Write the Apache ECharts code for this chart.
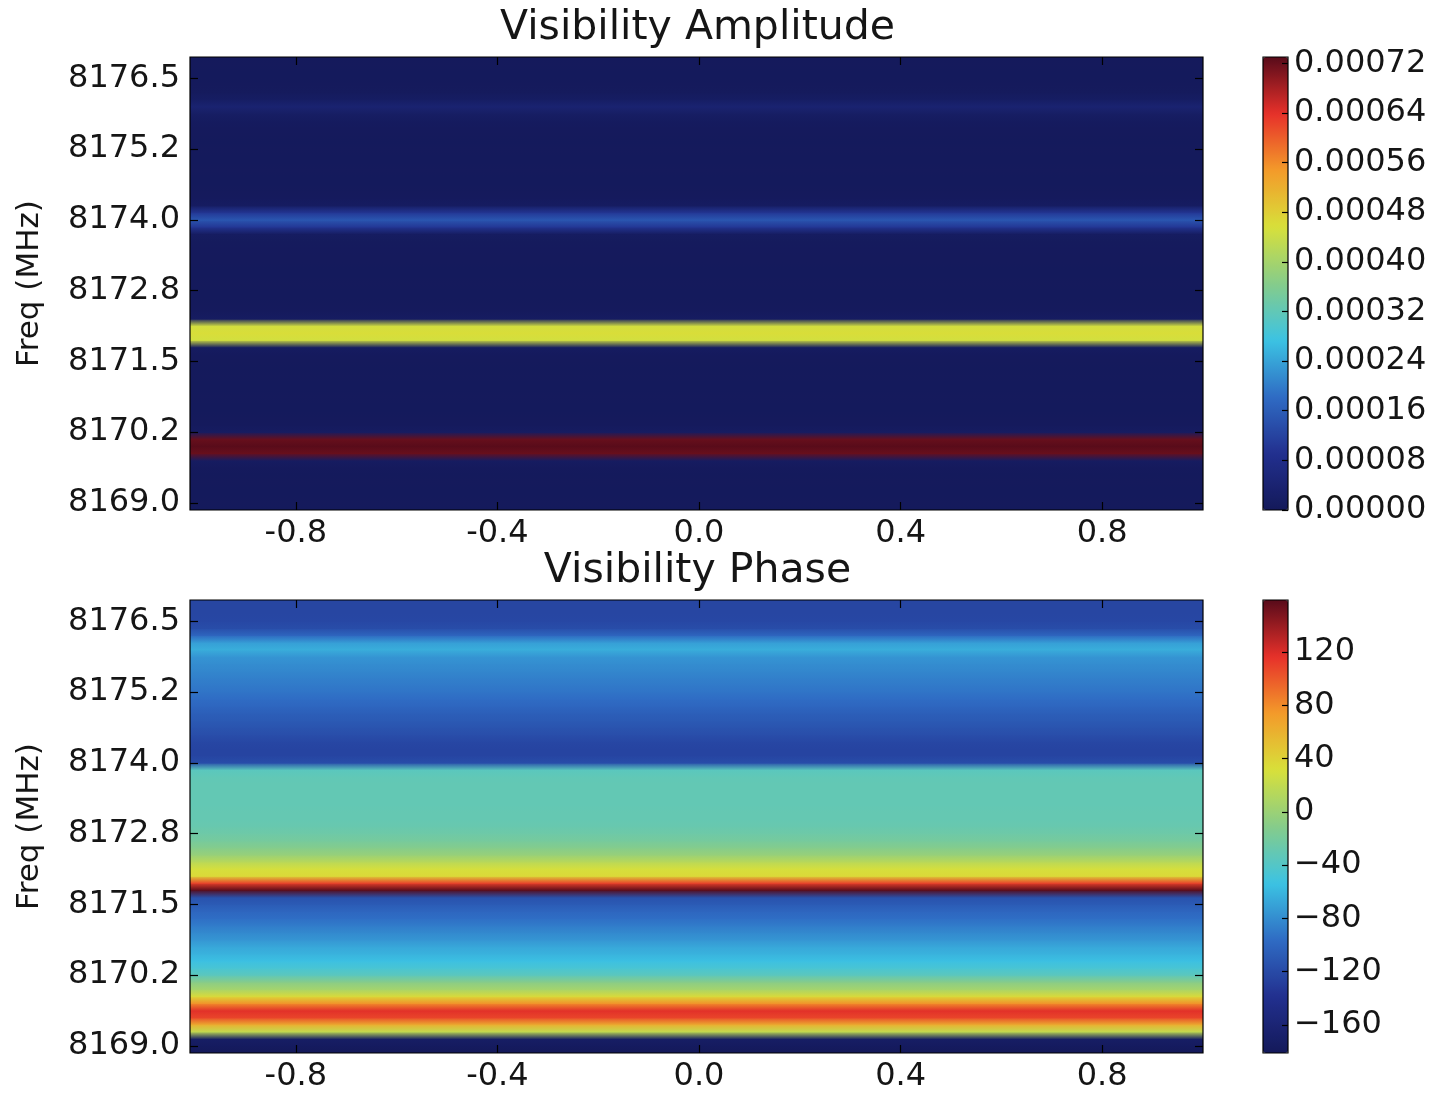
<!DOCTYPE html>
<html><head><meta charset="utf-8">
<script src="https://cdn.jsdelivr.net/npm/echarts@6/dist/echarts.min.js"></script>
<style>html,body{margin:0;padding:0;background:#fff}#c{width:1437px;height:1095px}</style>
</head><body><div id="c"></div>
<script>
// ---------------- data ----------------
const freqs = [8168.875, 8169.000, 8169.125, 8169.250, 8169.375, 8169.500, 8169.625, 8169.750, 8169.875, 8170.000,
  8170.125, 8170.250, 8170.375, 8170.500, 8170.625, 8170.750, 8170.875, 8171.000, 8171.125, 8171.250,
  8171.375, 8171.500, 8171.625, 8171.750, 8171.875, 8172.000, 8172.125, 8172.250, 8172.375, 8172.500,
  8172.625, 8172.750, 8172.875, 8173.000, 8173.125, 8173.250, 8173.375, 8173.500, 8173.625, 8173.750,
  8173.875, 8174.000, 8174.125, 8174.250, 8174.375, 8174.500, 8174.625, 8174.750, 8174.875, 8175.000,
  8175.125, 8175.250, 8175.375, 8175.500, 8175.625, 8175.750, 8175.875, 8176.000, 8176.125, 8176.250,
  8176.375, 8176.500, 8176.625, 8176.750, 8176.875];
const amplitude = [0.000003, 0.000004, 0.000003, 0.000003, 0.000004, 0.000003, 0.000005, 0.000012,
  0.00072, 0.00073, 0.00072,
  0.000012, 0.000005, 0.000004, 0.000003, 0.000003, 0.000004, 0.000003, 0.000003, 0.000004, 0.000003, 0.000004, 0.000005,
  0.000012,
  0.00045, 0.00046, 0.00045,
  0.000012,
  0.000005, 0.000004, 0.000003, 0.000003, 0.000004, 0.000003, 0.000003, 0.000004, 0.000004, 0.000005, 0.000006,
  0.000012,
  0.00010, 0.00015, 0.00010,
  0.000012,
  0.000005, 0.000004, 0.000003, 0.000003, 0.000004, 0.000003, 0.000003, 0.000004, 0.000003, 0.000004, 0.000005, 0.000008,
  0.000018, 0.000040, 0.000016,
  0.000006, 0.000004, 0.000003, 0.000003, 0.000004, 0.000003];
const phase = [-181, -177, -172, 20, 62, 108, 118, 78, 35, 5,
  -10, -35, -46, -55, -62, -67, -76, -82, -88, -95,
  -100, -108, -115, 159, 110, 36, 30, 15, -2, -12,
  -20, -25, -28, -30, -30, -31, -31, -31, -31, -32,
  -36, -118, -124, -124, -122, -117, -113, -109, -105, -100,
  -96, -92, -89, -86, -83, -80, -76, -64, -72, -100,
  -118, -122, -123, -123, -123];
const timeExtent = [-1.01, 1.0];
const freqExtent = [8168.875, 8176.875];
const xTicks = [-0.8, -0.4, 0.0, 0.4, 0.8];
const xTickLabels = ['-0.8', '-0.4', '0.0', '0.4', '0.8'];
const freqTicks = [8169.0, 8170.25, 8171.5, 8172.75, 8174.0, 8175.25, 8176.5];
const freqTickLabels = ['8169.0', '8170.2', '8171.5', '8172.8', '8174.0', '8175.2', '8176.5'];
const ampRange = [0, 0.00073];
const ampTicks = [0, 0.00008, 0.00016, 0.00024, 0.00032, 0.00040, 0.00048, 0.00056, 0.00064, 0.00072];
const ampTickLabels = ['0.00000', '0.00008', '0.00016', '0.00024', '0.00032', '0.00040', '0.00048', '0.00056', '0.00064', '0.00072'];
const phaseRange = [-181, 159];
const phaseTicks = [-160, -120, -80, -40, 0, 40, 80, 120];
const phaseTickLabels = ['\u2212160', '\u2212120', '\u221280', '\u221240', '0', '40', '80', '120'];
const titles = ['Visibility Amplitude', 'Visibility Phase'];
const yName = 'Freq (MHz)';
const jetColors = ['#14195a', '#22308f', '#2f6cc4', '#3cc3e3', '#86cc8a', '#d8e03a', '#f39a2a', '#e6302a', '#580b1a'];

// ---------------- layout ----------------
const FONT = 'DejaVu Sans';
const TXT = '#151515';
const plotLeft = 190, plotWidth = 1013, plotH = 453;
const tops = [57, 600];
const cbLeft = 1263, cbWidth = 25;

function labelFrom(ticks, labels) {
  return function (v) {
    for (let k = 0; k < ticks.length; k++) if (Math.abs(ticks[k] - v) < 1e-9) return labels[k];
    return '';
  };
}

function bandRender(params, api) {
  const i = params.dataIndexInside;
  if (i >= freqs.length - 1) return null;
  const f0 = api.value(0, i), f1 = api.value(0, i + 1);
  const pLo = api.coord([timeExtent[0], f0]);
  const pHi = api.coord([timeExtent[1], f1]);
  const c0 = api.visual('color', i), c1 = api.visual('color', i + 1);
  const top = pHi[1] - 0.6, bottom = pLo[1] + 0.6;
  return {
    type: 'rect',
    shape: { x: pLo[0], y: top, width: pHi[0] - pLo[0], height: bottom - top },
    style: { fill: new echarts.graphic.LinearGradient(0, 1, 0, 0, [{ offset: 0, color: c0 }, { offset: 1, color: c1 }]) }
  };
}

const grids = [], xAxes = [], yAxes = [], series = [], visualMaps = [], titleOpts = [];
const datasets = [amplitude, phase];
const cbRanges = [ampRange, phaseRange];
const cbTicks = [ampTicks, phaseTicks];
const cbLabels = [ampTickLabels, phaseTickLabels];
const noLine = { show: false, onZero: false };

for (let p = 0; p < 2; p++) {
  const g = grids.length;
  grids.push({ left: plotLeft, top: tops[p], width: plotWidth, height: plotH, show: true, z: 10,
    backgroundColor: 'transparent', borderColor: '#000', borderWidth: 1.2, containLabel: false });
  const tickStyle = { show: true, inside: true, length: 8, lineStyle: { color: '#000', width: 1.2 } };
  const xb = xAxes.length;
  xAxes.push({ type: 'value', gridIndex: g, position: 'bottom', min: timeExtent[0], max: timeExtent[1], z: 10,
    splitLine: { show: false }, axisLine: noLine,
    axisTick: Object.assign({ customValues: xTicks }, tickStyle),
    axisLabel: { customValues: xTicks, formatter: labelFrom(xTicks, xTickLabels), fontFamily: FONT, fontSize: 32, color: TXT, margin: 8 } });
  xAxes.push({ type: 'value', gridIndex: g, position: 'top', min: timeExtent[0], max: timeExtent[1], z: 10,
    splitLine: { show: false }, axisLine: noLine,
    axisTick: Object.assign({ customValues: xTicks }, tickStyle), axisLabel: { show: false } });
  const yl = yAxes.length;
  yAxes.push({ type: 'value', gridIndex: g, position: 'left', min: freqExtent[0], max: freqExtent[1], z: 10,
    name: yName, nameLocation: 'middle', nameGap: 145, nameRotate: 90,
    nameTextStyle: { fontFamily: FONT, fontSize: 31, color: TXT },
    splitLine: { show: false }, axisLine: noLine,
    axisTick: Object.assign({ customValues: freqTicks }, tickStyle),
    axisLabel: { customValues: freqTicks, formatter: labelFrom(freqTicks, freqTickLabels), fontFamily: FONT, fontSize: 32, color: TXT, margin: 10 } });
  yAxes.push({ type: 'value', gridIndex: g, position: 'right', min: freqExtent[0], max: freqExtent[1], z: 10,
    splitLine: { show: false }, axisLine: noLine,
    axisTick: Object.assign({ customValues: freqTicks }, tickStyle), axisLabel: { show: false } });
  series.push({ type: 'custom', name: titles[p], xAxisIndex: xb, yAxisIndex: yl, clip: true,
    dimensions: ['freq', 'value'], encode: { y: 0, tooltip: 1 },
    data: freqs.map((f, i) => [f, datasets[p][i]]), renderItem: bandRender, silent: true });
  titleOpts.push({ text: titles[p], left: plotLeft + plotWidth / 2 - 4, textAlign: 'center', top: tops[p] - 54,
    textStyle: { fontFamily: FONT, fontSize: 41, fontWeight: 'normal', color: TXT } });
}

for (let p = 0; p < 2; p++) {
  const g = grids.length;
  grids.push({ left: cbLeft, top: tops[p], width: cbWidth, height: plotH, show: true, z: 10,
    backgroundColor: 'transparent', borderColor: '#000', borderWidth: 1.2 });
  xAxes.push({ type: 'value', gridIndex: g, min: 0, max: 1, show: false, axisLine: noLine });
  yAxes.push({ type: 'value', gridIndex: g, position: 'right', min: cbRanges[p][0], max: cbRanges[p][1], z: 10,
    splitLine: { show: false }, axisLine: noLine,
    axisTick: { show: true, inside: true, length: 6, customValues: cbTicks[p], lineStyle: { color: '#000', width: 1.2 } },
    axisLabel: { customValues: cbTicks[p], formatter: labelFrom(cbTicks[p], cbLabels[p]), fontFamily: FONT, fontSize: 32, color: TXT, margin: 6 } });
  visualMaps.push({ type: 'continuous', seriesIndex: p, dimension: 1, min: cbRanges[p][0], max: cbRanges[p][1],
    inRange: { color: jetColors }, left: cbLeft, top: tops[p], itemWidth: cbWidth, itemHeight: plotH,
    padding: 0, calculable: false, hoverLink: false, orient: 'vertical', text: null, showLabel: false });
}

const chart = echarts.init(document.getElementById('c'), null, { renderer: 'canvas' });
chart.setOption({
  backgroundColor: '#ffffff',
  animation: false,
  title: titleOpts,
  grid: grids,
  xAxis: xAxes,
  yAxis: yAxes,
  visualMap: visualMaps,
  series: series
});
</script></body></html>
